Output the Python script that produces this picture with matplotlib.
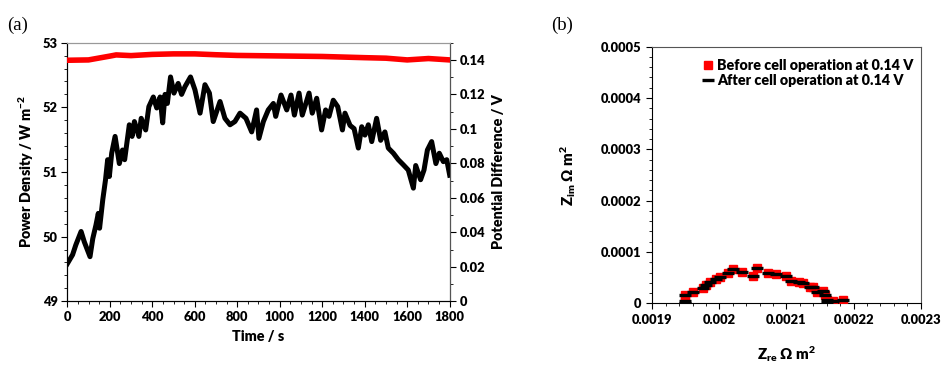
import matplotlib
matplotlib.use("Agg")
import matplotlib.pyplot as plt
from matplotlib.ticker import MultipleLocator
from matplotlib.lines import Line2D

# ---------------- data ----------------
time_s = [0, 25, 40, 65, 80, 107, 120, 135, 146, 152, 167, 180, 190, 198, 209, 225, 245,
          260, 270, 292, 305, 316, 337, 348, 369, 384, 405, 421, 437, 449, 460, 471, 486,
          502, 522, 538, 554, 580, 601, 625, 648, 669, 687, 719, 742, 766, 789, 813, 841,
          868, 891, 902, 923, 946, 970, 981, 1006, 1033, 1053, 1069, 1091, 1106, 1138,
          1153, 1174, 1197, 1216, 1232, 1252, 1273, 1295, 1307, 1331, 1350, 1370, 1386,
          1401, 1417, 1433, 1456, 1475, 1495, 1511, 1535, 1558, 1582, 1605, 1629, 1640,
          1663, 1679, 1695, 1715, 1735, 1751, 1770, 1786, 1800]
power_density = [49.58, 49.72, 49.87, 50.08, 49.92, 49.69, 49.97, 50.18, 50.36, 50.13,
                 50.57, 50.88, 51.19, 50.93, 51.29, 51.55, 51.13, 51.34, 51.19, 51.73,
                 51.55, 51.78, 51.55, 51.83, 51.65, 52.01, 52.16, 51.99, 52.16, 51.76,
                 52.2, 52.06, 52.47, 52.22, 52.37, 52.2, 52.32, 52.47, 52.27, 51.91, 52.35,
                 52.22, 51.78, 52.09, 51.83, 51.73, 51.78, 51.91, 51.83, 51.62, 51.96,
                 51.52, 51.78, 51.96, 52.06, 51.86, 52.19, 51.96, 52.19, 51.88, 52.22,
                 51.88, 52.22, 51.91, 52.14, 51.65, 51.96, 51.86, 52.11, 52.01, 51.65,
                 51.91, 51.72, 51.67, 51.37, 51.7, 51.57, 51.73, 51.47, 51.83, 51.49,
                 51.62, 51.37, 51.29, 51.19, 51.11, 51.03, 50.75, 51.1, 50.88, 51.03,
                 51.34, 51.47, 51.13, 51.29, 51.16, 51.19, 50.95]

pot_time = [0, 100, 200, 230, 300, 400, 500, 600, 700, 800, 1000, 1200, 1400, 1500, 1600,
            1700, 1800]
potential = [0.1398, 0.1400, 0.1422, 0.1429, 0.1425, 0.1432, 0.1435, 0.1435, 0.1430,
             0.1426, 0.1423, 0.1420, 0.1413, 0.1410, 0.1400, 0.1408, 0.1400]

z_re = [0.001949, 0.001949, 0.001949, 0.001961, 0.001975, 0.00198, 0.001986, 0.001995,
        0.002001, 0.002013, 0.00202, 0.002033, 0.00205, 0.002056, 0.002073, 0.002084,
        0.0021, 0.002106, 0.002118, 0.002125, 0.002135, 0.00214, 0.002145, 0.002154,
        0.002157, 0.00216, 0.00216, 0.00217, 0.002184]
z_im = [0.0000162, 0.0000045, 0.0, 0.0000226, 0.0000292, 0.0000357, 0.000041, 0.0000468,
        0.0000519, 0.0000585, 0.0000663, 0.0000604, 0.0000532, 0.0000682, 0.0000597,
        0.0000565, 0.0000532, 0.0000435, 0.0000421, 0.000039, 0.0000312, 0.0000324,
        0.0000226, 0.0000246, 0.0000162, 0.0000064, 0.0, 0.000005, 0.0000064]

time_ticks = [0, 200, 400, 600, 800, 1000, 1200, 1400, 1600, 1800]
power_ticks = [49, 50, 51, 52, 53]
pot_ticks = [0, 0.02, 0.04, 0.06, 0.08, 0.1, 0.12, 0.14]
pot_labels = ["0", "0.02", "0.04", "0.06", "0.08", "0.1", "0.12", "0.14"]
zre_ticks = [0.0019, 0.0020, 0.0021, 0.0022, 0.0023]
zre_labels = ["0.0019", "0.002", "0.0021", "0.0022", "0.0023"]
zim_ticks = [0, 0.0001, 0.0002, 0.0003, 0.0004, 0.0005]
zim_labels = ["0", "0.0001", "0.0002", "0.0003", "0.0004", "0.0005"]

# ---------------- style ----------------
W = 'heavy'
plt.rcParams['font.family'] = ['Lato', 'DejaVu Sans']
plt.rcParams['font.weight'] = W
plt.rcParams['axes.labelweight'] = W
plt.rcParams['mathtext.fontset'] = 'custom'
plt.rcParams['mathtext.bf'] = 'Lato:heavy'
plt.rcParams['mathtext.rm'] = 'Lato:heavy'
plt.rcParams['mathtext.default'] = 'bf'

TICK_FS = 9.3
LABEL_FS = 10.3

fig = plt.figure(figsize=(9.41, 3.66), dpi=100)

# ---------------- panel (a) ----------------
ax = fig.add_axes([0.0715, 0.1768, 0.4064, 0.7066])
ax.plot(time_s, power_density, color='black', lw=3.6, zorder=3)
ax.set_xlim(0, 1800)
ax.set_ylim(49, 53)
ax.set_xticks(time_ticks)
ax.set_xticklabels([str(t) for t in time_ticks])
ax.set_yticks(power_ticks)
ax.set_yticklabels([str(p) for p in power_ticks])
ax.xaxis.set_minor_locator(MultipleLocator(50))
ax.yaxis.set_minor_locator(MultipleLocator(0.2))
ax.tick_params(which='major', direction='out', length=4, width=0.8, labelsize=TICK_FS, pad=3)
ax.tick_params(which='minor', direction='out', length=2.5, width=0.6)
ax.spines['top'].set_color('#999999')
ax.set_xlabel('Time / s', fontsize=LABEL_FS, labelpad=5)
ax.set_ylabel('Power Density / W m$^{-2}$', fontsize=LABEL_FS, labelpad=5)

ax2 = ax.twinx()
ax2.plot(pot_time, potential, color='red', lw=4, zorder=3)
ax2.set_ylim(0, 0.15)
ax2.set_yticks(pot_ticks)
ax2.set_yticklabels(pot_labels)
ax2.yaxis.set_minor_locator(MultipleLocator(0.01))
ax2.tick_params(which='major', direction='out', length=4, width=0.8, labelsize=TICK_FS, pad=3)
ax2.tick_params(which='minor', direction='out', length=2.5, width=0.6)
ax2.spines['top'].set_color('#999999')
ax2.spines['right'].set_color('#555555')
ax2.set_ylabel('Potential Difference / V', fontsize=LABEL_FS, labelpad=5)

for lab in ax.get_xticklabels() + ax.get_yticklabels() + ax2.get_yticklabels():
    lab.set_fontweight(W)

fig.text(0.008, 0.955, '(a)', fontsize=13.5, family='Liberation Serif', weight='normal',
         va='top', ha='left')

# ---------------- panel (b) ----------------
bx = fig.add_axes([0.6932, 0.1713, 0.2852, 0.7011])
bx.plot(z_re, z_im, linestyle='none', marker='s', markersize=5.5, color='red',
        markeredgecolor='red', zorder=3)
bx.plot(z_re, z_im, linestyle='none', marker='_', markersize=8, markeredgewidth=2.4,
        color='black', zorder=4)
bx.set_xlim(0.0019, 0.0023)
bx.set_ylim(0, 0.0005)
bx.set_xticks(zre_ticks)
bx.set_xticklabels(zre_labels)
bx.set_yticks(zim_ticks)
bx.set_yticklabels(zim_labels)
bx.xaxis.set_minor_locator(MultipleLocator(0.00002))
bx.yaxis.set_minor_locator(MultipleLocator(0.00002))
bx.tick_params(which='major', direction='out', length=4, width=0.8, labelsize=TICK_FS, pad=4)
bx.tick_params(which='minor', direction='out', length=2.5, width=0.6)
for s in ['top', 'right']:
    bx.spines[s].set_color('#555555')
bx.set_xlabel('Z$_{re}$ Ω m$^{2}$', fontsize=LABEL_FS + 0.5, labelpad=13)
bx.set_ylabel('Z$_{im}$ Ω m$^{2}$', fontsize=LABEL_FS + 0.5, labelpad=16)
for lab in bx.get_xticklabels() + bx.get_yticklabels():
    lab.set_fontweight(W)

handles = [Line2D([], [], linestyle='none', marker='s', markersize=5.5, color='red'),
           Line2D([], [], linestyle='none', marker='_', markersize=8, markeredgewidth=2.4,
                  color='black')]
bx.legend(handles, ['Before cell operation at 0.14 V', 'After cell operation at 0.14 V'],
          loc='upper right', bbox_to_anchor=(1.005, 0.985), frameon=False,
          handlelength=0.6, handletextpad=0.35, borderaxespad=0.2,
          labelspacing=0.15, prop={'weight': W, 'size': 10.3})

fig.text(0.586, 0.955, '(b)', fontsize=13.5, family='Liberation Serif', weight='normal',
         va='top', ha='left')

fig.savefig('out.png', dpi=100)
